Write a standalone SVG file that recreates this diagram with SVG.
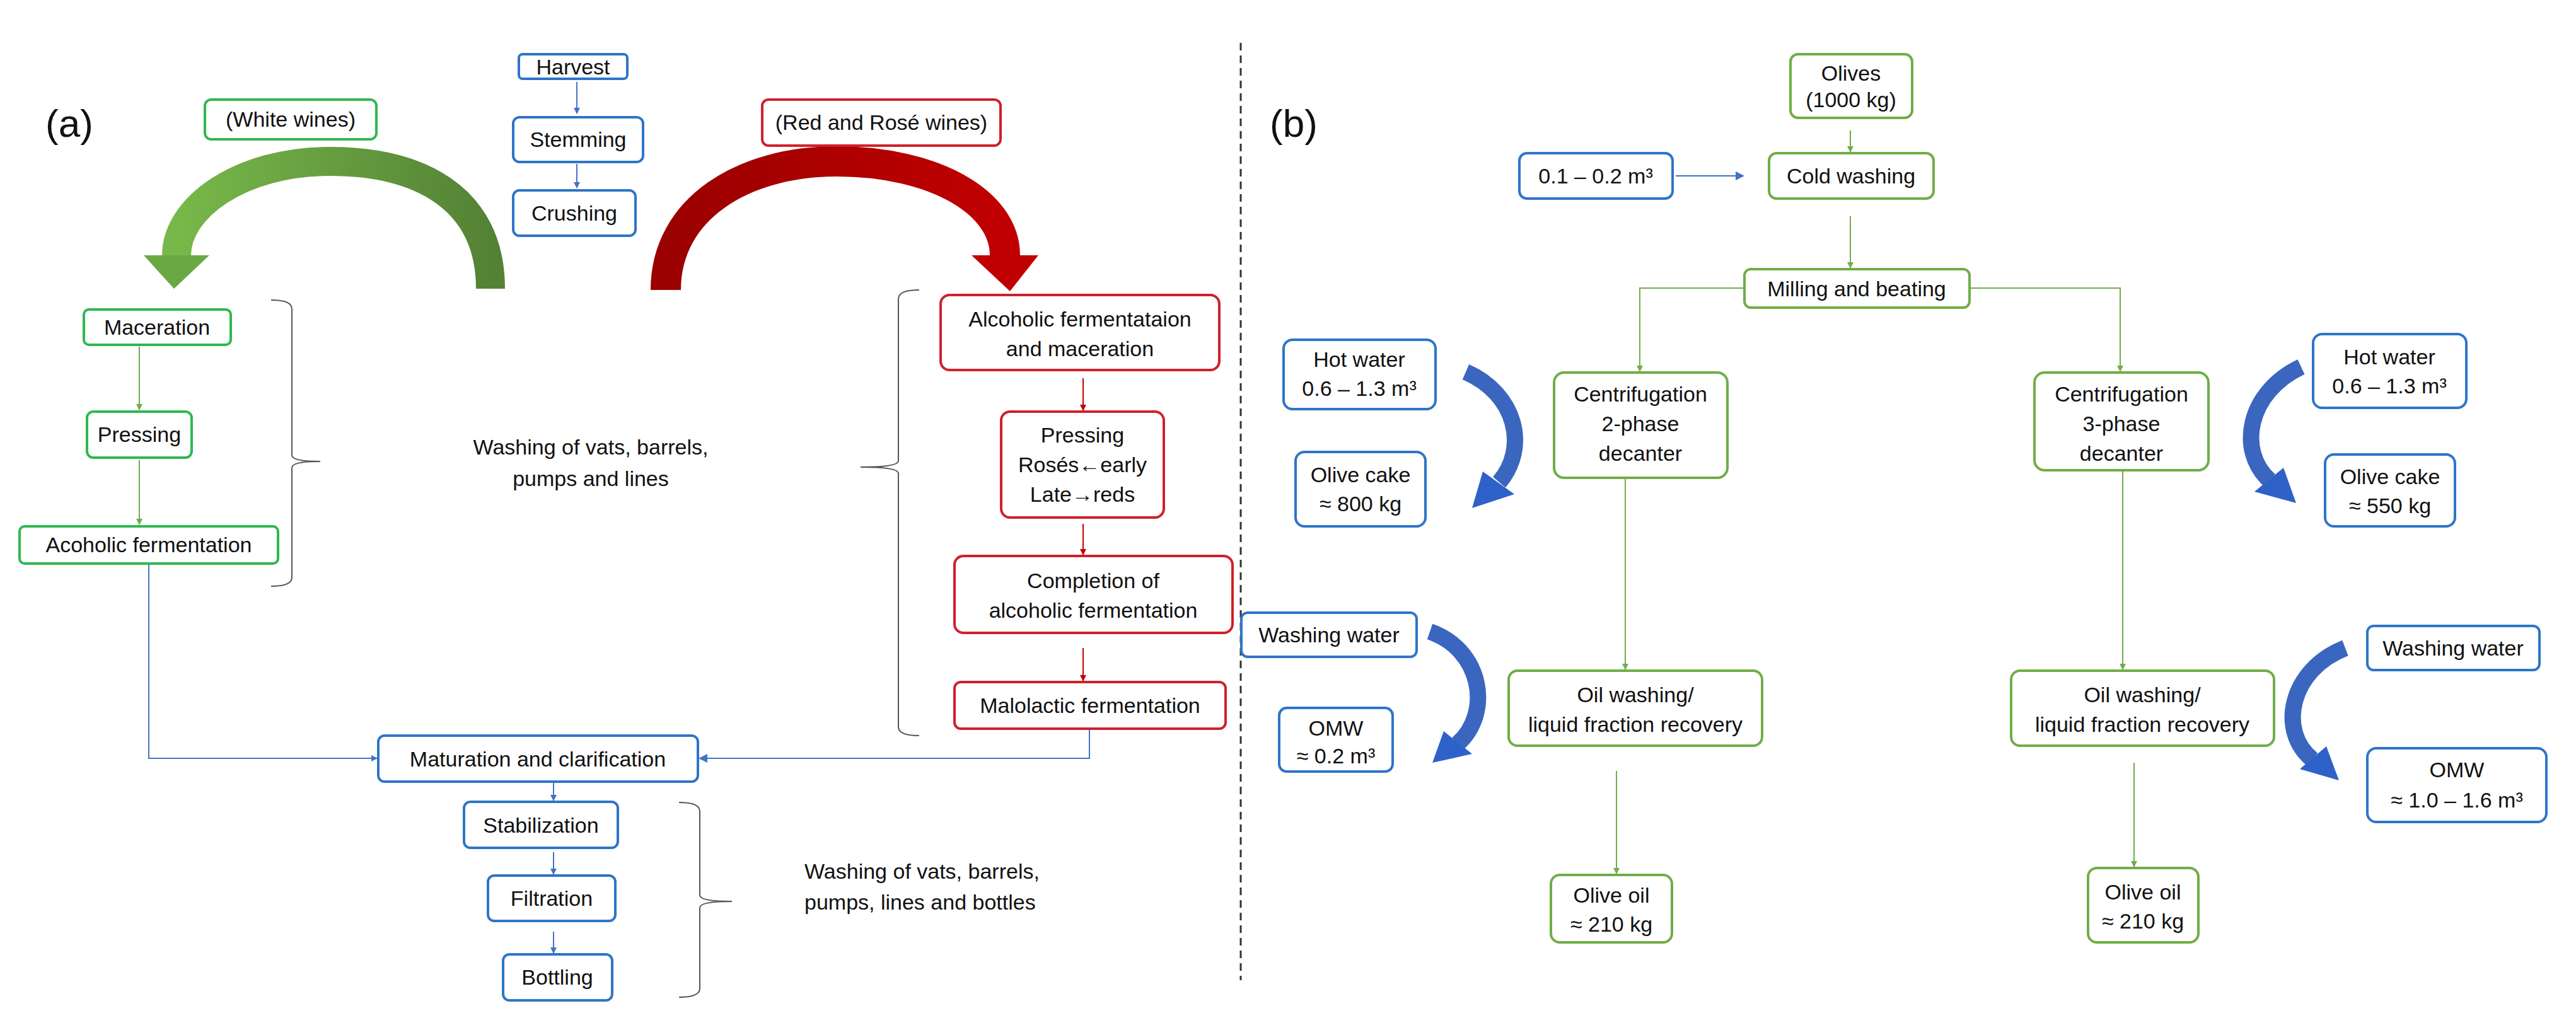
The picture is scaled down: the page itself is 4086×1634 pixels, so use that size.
<svg xmlns="http://www.w3.org/2000/svg" width="4086" height="1634" viewBox="0 0 4086 1634">
<style>
text{font-family:"Liberation Sans Narrow","Liberation Sans",Arial,sans-serif;font-size:34px;fill:#111;text-anchor:middle}
.g{fill:#fff;stroke:#2fb84f;stroke-width:4}
.gb{fill:#fff;stroke:#70ad47;stroke-width:4}
.b{fill:#fff;stroke:#2e75c8;stroke-width:4}
.r{fill:#fff;stroke:#d0202a;stroke-width:4}
.cg{stroke:#70ad47;stroke-width:2;fill:none}
.cb{stroke:#4472c4;stroke-width:2;fill:none}
.cr{stroke:#c00000;stroke-width:2;fill:none}
.br{stroke:#555;stroke-width:2;fill:none}
.lbl{font-family:"Liberation Sans",Arial,sans-serif;font-size:62px}
</style>
<defs>
<marker id="ag" markerWidth="10" markerHeight="10" refX="9" refY="5" orient="auto" markerUnits="userSpaceOnUse" viewBox="0 0 10 10"><path d="M0,0L10,5L0,10z" fill="#70ad47"/></marker>
<marker id="ab" markerWidth="10" markerHeight="10" refX="9" refY="5" orient="auto" markerUnits="userSpaceOnUse"><path d="M0,0L10,5L0,10z" fill="#4472c4"/></marker>
<marker id="abL" markerWidth="14" markerHeight="14" refX="12" refY="7" orient="auto" markerUnits="userSpaceOnUse"><path d="M0,0L14,7L0,14z" fill="#4472c4"/></marker>
<marker id="ar" markerWidth="10" markerHeight="10" refX="9" refY="5" orient="auto" markerUnits="userSpaceOnUse"><path d="M0,0L10,5L0,10z" fill="#c00000"/></marker>
<linearGradient id="gg" x1="0" y1="0" x2="1" y2="0"><stop offset="0" stop-color="#78b84a"/><stop offset="1" stop-color="#548235"/></linearGradient>
<linearGradient id="rg" x1="0" y1="0" x2="1" y2="0"><stop offset="0" stop-color="#9a0000"/><stop offset="1" stop-color="#c00000"/></linearGradient>
</defs>
<rect width="4086" height="1634" fill="#fff"/>
<text class="lbl" x="110" y="217">(a)</text>
<text class="lbl" x="2052" y="217">(b)</text>
<line x1="1968" y1="68" x2="1968" y2="1555" stroke="#333" stroke-width="3" stroke-dasharray="12,8"/>

<g id="big-arrows">
<path d="M778,458 C778,310 660,256 523,256 C380,256 280,330 280,405" stroke="url(#gg)" stroke-width="46" fill="none"/>
<polygon points="228,405 332,405 276,458" fill="#6aa843"/>
<path d="M1056,460 C1056,330 1180,256 1327,256 C1480,256 1594,320 1594,405" stroke="url(#rg)" stroke-width="48" fill="none"/>
<polygon points="1541,405 1647,405 1602,462" fill="#c00000"/>
<g fill="none" stroke="#3a66c0" stroke-width="26">
<path d="M2325,590 C2405,625 2425,710 2378,765"/>
<path d="M3650,582 C3565,622 3548,715 3600,762"/>
<path d="M2268,1002 C2350,1030 2368,1130 2312,1180"/>
<path d="M3720,1028 C3632,1062 3612,1160 3668,1205"/>
</g>
<g fill="#2f62c8">
<polygon points="2335,806 2352,748 2402,784"/>
<polygon points="3642,798 3576,780 3622,742"/>
<polygon points="2272,1210 2290,1160 2335,1196"/>
<polygon points="3710,1238 3648,1220 3690,1184"/>
</g>
</g>

<g id="connectors">
<line class="cb" x1="915" y1="130" x2="915" y2="180" marker-end="url(#ab)"/>
<line class="cb" x1="915" y1="260" x2="915" y2="298" marker-end="url(#ab)"/>
<line class="cg" x1="221" y1="550" x2="221" y2="650" marker-end="url(#ag)"/>
<line class="cg" x1="221" y1="730" x2="221" y2="832" marker-end="url(#ag)"/>
<line class="cr" x1="1718" y1="600" x2="1718" y2="651" marker-end="url(#ar)"/>
<line class="cr" x1="1718" y1="831" x2="1718" y2="880" marker-end="url(#ar)"/>
<line class="cr" x1="1718" y1="1028" x2="1718" y2="1080" marker-end="url(#ar)"/>
<polyline class="cb" stroke="#9fb6e6" points="236,896 236,1203 598,1203" marker-end="url(#ab)"/>
<polyline class="cb" points="1728,1158 1728,1203 1110,1203" marker-end="url(#abL)"/>
<line class="cb" x1="878" y1="1242" x2="878" y2="1270" marker-end="url(#ab)"/>
<line class="cb" x1="878" y1="1352" x2="878" y2="1387" marker-end="url(#ab)"/>
<line class="cb" x1="878" y1="1478" x2="878" y2="1512" marker-end="url(#ab)"/>
<line class="cb" stroke-width="3" x1="2658" y1="279" x2="2765" y2="279" marker-end="url(#abL)"/>
<line class="cg" x1="2935" y1="207" x2="2935" y2="241" marker-end="url(#ag)"/>
<line class="cg" x1="2935" y1="343" x2="2935" y2="425" marker-end="url(#ag)"/>
<polyline class="cg" points="2767,457 2601,457 2601,589" marker-end="url(#ag)"/>
<polyline class="cg" points="3124,457 3363,457 3363,589" marker-end="url(#ag)"/>
<line class="cg" x1="2578" y1="758" x2="2578" y2="1062" marker-end="url(#ag)"/>
<line class="cg" x1="3367" y1="746" x2="3367" y2="1062" marker-end="url(#ag)"/>
<line class="cg" stroke="#c5dfb5" x1="2564" y1="1223" x2="2564" y2="1386" marker-end="url(#ag)"/>
<line class="cg" x1="3385" y1="1210" x2="3385" y2="1375" marker-end="url(#ag)"/>
<path class="br" d="M430,476 Q463,476 463,490 L463,722 Q463,732 508,732 Q463,732 463,742 L463,916 Q463,930 430,930"/>
<path class="br" d="M1458,460 Q1425,460 1425,474 L1425,731 Q1425,741 1365,741 Q1425,741 1425,751 L1425,1153 Q1425,1167 1458,1167"/>
<path class="br" d="M1077,1273 Q1110,1273 1110,1287 L1110,1420 Q1110,1430 1161,1430 Q1110,1430 1110,1440 L1110,1568 Q1110,1582 1077,1582"/>
</g>

<g id="harvest"><rect class="b" x="823" y="86" width="172" height="39" rx="6"/><text x="909" y="118">Harvest</text></g>
<g id="stemming"><rect class="b" x="814" y="186" width="206" height="71" rx="10"/><text x="917" y="233">Stemming</text></g>
<g id="crushing"><rect class="b" x="814" y="302" width="194" height="72" rx="10"/><text x="911" y="350">Crushing</text></g>
<g id="white-wines"><rect class="g" x="325" y="158" width="272" height="63" rx="10"/><text x="461" y="201">(White wines)</text></g>
<g id="red-wines"><rect class="r" x="1209" y="158" width="378" height="73" rx="10"/><text x="1398" y="206">(Red and Rosé wines)</text></g>
<g id="maceration"><rect class="g" x="133" y="491" width="233" height="56" rx="8"/><text x="249" y="531">Maceration</text></g>
<g id="pressing-w"><rect class="g" x="138" y="653" width="166" height="73" rx="10"/><text x="221" y="701">Pressing</text></g>
<g id="acoholic"><rect class="g" x="31" y="835" width="410" height="59" rx="8"/><text x="236" y="876">Acoholic fermentation</text></g>
<g id="alc-mac"><rect class="r" x="1492" y="468" width="442" height="119" rx="14"/><text x="1713" y="518">Alcoholic fermentataion</text><text x="1713" y="565">and maceration</text></g>
<g id="pressing-r"><rect class="r" x="1588" y="653" width="258" height="168" rx="14"/><text x="1717" y="702">Pressing</text><text x="1717" y="749">Rosés←early</text><text x="1717" y="796">Late→reds</text></g>
<g id="completion"><rect class="r" x="1514" y="882" width="441" height="122" rx="14"/><text x="1734" y="933">Completion of</text><text x="1734" y="980">alcoholic fermentation</text></g>
<g id="malolactic"><rect class="r" x="1514" y="1082" width="430" height="74" rx="10"/><text x="1729" y="1131">Malolactic fermentation</text></g>
<g id="maturation"><rect class="b" x="600" y="1167" width="507" height="73" rx="10"/><text x="853" y="1216">Maturation and clarification</text></g>
<g id="stabilization"><rect class="b" x="736" y="1272" width="244" height="73" rx="10"/><text x="858" y="1321">Stabilization</text></g>
<g id="filtration"><rect class="b" x="774" y="1389" width="202" height="72" rx="10"/><text x="875" y="1437">Filtration</text></g>
<g id="bottling"><rect class="b" x="798" y="1514" width="173" height="73" rx="10"/><text x="884" y="1562">Bottling</text></g>
<g id="washing-1"><text x="937" y="721">Washing of vats, barrels,</text><text x="937" y="771">pumps and lines</text></g>
<g id="washing-2"><text x="1276" y="1394" style="text-anchor:start">Washing of vats, barrels,</text><text x="1276" y="1443" style="text-anchor:start">pumps, lines and bottles</text></g>

<g id="olives"><rect class="gb" x="2840" y="86" width="193" height="101" rx="12"/><text x="2936" y="128">Olives</text><text x="2936" y="170">(1000 kg)</text></g>
<g id="water-cold"><rect class="b" x="2410" y="243" width="243" height="72" rx="12"/><text x="2531" y="291">0.1 – 0.2 m³</text></g>
<g id="cold-washing"><rect class="gb" x="2806" y="243" width="261" height="72" rx="12"/><text x="2936" y="291">Cold washing</text></g>
<g id="milling"><rect class="gb" x="2767" y="427" width="357" height="61" rx="10"/><text x="2945" y="470">Milling and beating</text></g>
<g id="hot-water-l"><rect class="b" x="2036" y="539" width="241" height="110" rx="14"/><text x="2156" y="582">Hot water</text><text x="2156" y="628">0.6 – 1.3 m³</text></g>
<g id="centri-2"><rect class="gb" x="2465" y="591" width="275" height="167" rx="16"/><text x="2602" y="637">Centrifugation</text><text x="2602" y="684">2-phase</text><text x="2602" y="731">decanter</text></g>
<g id="centri-3"><rect class="gb" x="3227" y="591" width="276" height="155" rx="16"/><text x="3365" y="637">Centrifugation</text><text x="3365" y="684">3-phase</text><text x="3365" y="731">decanter</text></g>
<g id="hot-water-r"><rect class="b" x="3669" y="530" width="243" height="117" rx="14"/><text x="3790" y="578">Hot water</text><text x="3790" y="624">0.6 – 1.3 m³</text></g>
<g id="cake-l"><rect class="b" x="2055" y="717" width="206" height="118" rx="14"/><text x="2158" y="765">Olive cake</text><text x="2158" y="811">≈ 800 kg</text></g>
<g id="cake-r"><rect class="b" x="3688" y="721" width="206" height="114" rx="14"/><text x="3791" y="768">Olive cake</text><text x="3791" y="814">≈ 550 kg</text></g>
<g id="wash-water-l"><rect class="b" x="1969" y="972" width="278" height="70" rx="10"/><text x="2108" y="1019">Washing water</text></g>
<g id="oil-wash-l"><rect class="gb" x="2393" y="1064" width="402" height="119" rx="14"/><text x="2594" y="1114">Oil washing/</text><text x="2594" y="1161">liquid fraction recovery</text></g>
<g id="omw-l"><rect class="b" x="2029" y="1123" width="180" height="101" rx="12"/><text x="2119" y="1167">OMW</text><text x="2119" y="1211">≈ 0.2 m³</text></g>
<g id="oil-wash-r"><rect class="gb" x="3190" y="1064" width="417" height="119" rx="14"/><text x="3398" y="1114">Oil washing/</text><text x="3398" y="1161">liquid fraction recovery</text></g>
<g id="wash-water-r"><rect class="b" x="3755" y="993" width="273" height="70" rx="10"/><text x="3891" y="1040">Washing water</text></g>
<g id="omw-r"><rect class="b" x="3755" y="1187" width="284" height="117" rx="14"/><text x="3897" y="1233">OMW</text><text x="3897" y="1281">≈ 1.0 – 1.6 m³</text></g>
<g id="oil-l"><rect class="gb" x="2460" y="1388" width="192" height="107" rx="14"/><text x="2556" y="1432">Olive oil</text><text x="2556" y="1478">≈ 210 kg</text></g>
<g id="oil-r"><rect class="gb" x="3312" y="1377" width="175" height="118" rx="14"/><text x="3399" y="1427">Olive oil</text><text x="3399" y="1473">≈ 210 kg</text></g>
</svg>
